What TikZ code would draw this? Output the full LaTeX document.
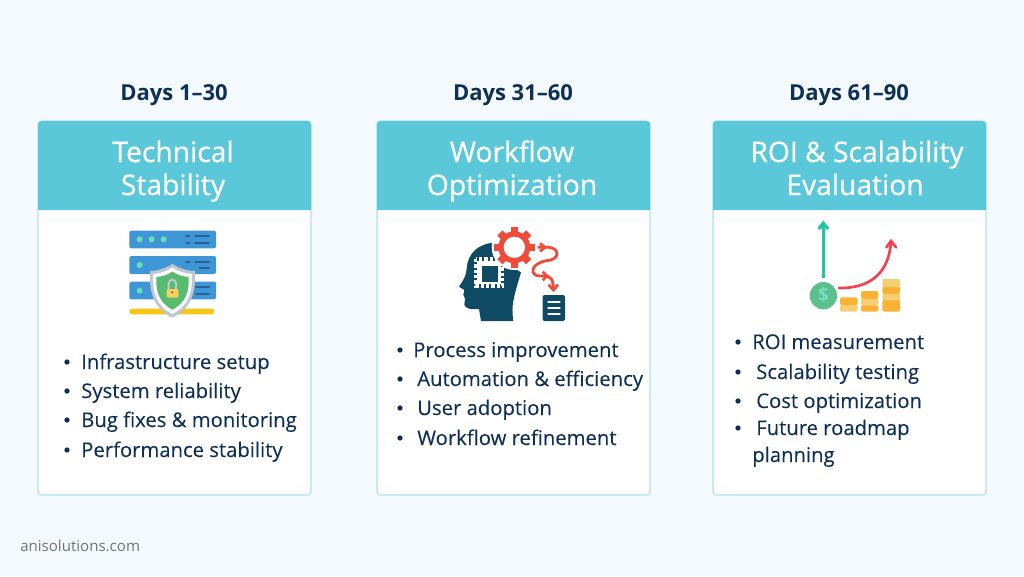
\documentclass[tikz,border=0pt]{standalone}
\usepackage{fontspec}
\setmainfont{Open Sans}
\newfontfamily\midfont[FakeBold=0.6]{Open Sans}
\newfontfamily\itemfont[FakeBold=0.15]{Open Sans}
\definecolor{pagebg}{HTML}{F4F9FD}
\definecolor{teal}{HTML}{5BC8D9}
\definecolor{edge}{HTML}{ACE3EA}
\definecolor{navy}{HTML}{0E2F56}
\definecolor{srvblue}{HTML}{3F96D6}
\definecolor{srvdark}{HTML}{2A5F94}
\definecolor{mint}{HTML}{66E0B4}
\definecolor{shieldgray}{HTML}{BFC5CC}
\definecolor{shieldgreen}{HTML}{58BC70}
\definecolor{lockyellow}{HTML}{F5D15B}
\definecolor{sunbar}{HTML}{F5C518}
\definecolor{headblue}{HTML}{0F4A63}
\definecolor{gearred}{HTML}{EE4B3A}
\definecolor{upgreen}{HTML}{1CC8A0}
\definecolor{coingreen}{HTML}{5BC08B}
\definecolor{curvered}{HTML}{F5414F}
\definecolor{coindark}{HTML}{F9B233}
\definecolor{coinlight}{HTML}{F5CE75}
\tikzset{
  dayslabel/.style={text=navy, font=\fontsize{16.5}{20}\selectfont\bfseries, anchor=base},
  headlabel/.style={text=white, font=\fontsize{21.2}{25}\midfont, anchor=base},
  itemlabel/.style={text=navy, inner sep=0pt, font=\fontsize{15.2}{18}\itemfont, anchor=base west},
  dotlabel/.style={circle, fill=navy, inner sep=0pt, minimum size=4pt},
  cardbox/.style={draw=edge, line width=0.8pt, fill=white, rounded corners=2.5pt},
  bluebar/.style={fill=srvblue, rounded corners=1.5pt},
  darkline/.style={draw=srvdark, line width=1.5pt, line cap=round},
  redline/.style={draw=gearred, line width=2.1pt},
  stackcoin/.style={rounded corners=1.6pt},
}
\begin{document}
\begin{tikzpicture}[x=0.75pt, y=-0.75pt]
  \fill [pagebg] (0, 0) rectangle (1024, 576);

  % Days 1-30
  \node (daysa) at (174, 100) [dayslabel] {Days 1–30};
  \draw [cardbox] (38, 121) rectangle (311, 495);
  \fill [teal] (38, 121) [rounded corners=2.5pt] -- (311, 121) [sharp corners] -- (311, 210) -- (38, 210) [rounded corners=2.5pt] -- cycle;
  \node (heada) at (173, 162) [headlabel] {Technical};
  \node (headb) at (173, 195) [headlabel] {Stability};
  \node (dota) at (67, 362) [dotlabel] {};
  \node (itema) at (81, 369) [itemlabel] {Infrastructure setup};
  \node (dotb) at (67, 391) [dotlabel] {};
  \node (itemb) at (81, 398) [itemlabel] {System reliability};
  \node (dotc) at (67, 420) [dotlabel] {};
  \node (itemc) at (81, 427) [itemlabel] {Bug fixes \& monitoring};
  \node (dotd) at (67, 450) [dotlabel] {};
  \node (itemd) at (81, 457) [itemlabel] {Performance stability};

  % server icon
  \begin{scope}[shift={(110, 215)}, x=0.25pt, y=-0.25pt]
    \fill [bluebar] (58, 47) rectangle (318, 100);
    \fill [bluebar] (58, 123) rectangle (318, 177);
    \fill [bluebar] (58, 200) rectangle (318, 253);
    \fill [sunbar, rounded corners=2pt] (58, 281) rectangle (313, 298);
    \fill [mint] (89, 73) circle (9);
    \fill [mint] (125, 73) circle (9);
    \fill [mint] (161, 73) circle (9);
    \fill [mint] (89, 150) circle (9);
    \fill [mint] (89, 227) circle (9);
    \draw [darkline] (229, 64) -- (238, 64);
    \draw [darkline] (255, 64) -- (297, 64);
    \draw [darkline] (229, 83) -- (238, 83);
    \draw [darkline] (255, 83) -- (297, 83);
    \draw [darkline] (229, 141) -- (238, 141);
    \draw [darkline] (255, 141) -- (297, 141);
    \draw [darkline] (268, 158) -- (297, 158);
    \draw [darkline] (258, 217) -- (297, 217);
    \draw [darkline] (258, 236) -- (297, 236);
    \fill [shieldgray] (187, 146) .. controls (205, 160) and (235, 168) .. (255, 168)
      .. controls (258, 230) and (245, 280) .. (187, 308)
      .. controls (130, 280) and (117, 230) .. (120, 168)
      .. controls (140, 168) and (170, 160) .. (187, 146) -- cycle;
    \fill [white!90!shieldgray] (187, 157) .. controls (205, 170) and (228, 176) .. (246, 177)
      .. controls (248, 230) and (238, 272) .. (187, 297)
      .. controls (137, 272) and (127, 230) .. (129, 177)
      .. controls (147, 176) and (170, 170) .. (187, 157) -- cycle;
    \fill [shieldgreen] (187, 170) .. controls (203, 181) and (222, 185) .. (236, 186)
      .. controls (238, 230) and (228, 262) .. (187, 284)
      .. controls (147, 262) and (137, 230) .. (139, 186)
      .. controls (153, 185) and (172, 181) .. (187, 170) -- cycle;
    \draw [shieldgray, line width=1.5pt] (176, 224) -- (176, 205) arc (180:360:11) -- (198, 224);
    \fill [lockyellow, rounded corners=1pt] (170, 222) rectangle (205, 248);
    \fill [black!50!gearred] (187, 232) circle (3);
  \end{scope}

  % Days 31-60
  \node (daysb) at (513, 100) [dayslabel] {Days 31–60};
  \draw [cardbox] (377, 121) rectangle (650, 495);
  \fill [teal] (377, 121) [rounded corners=2.5pt] -- (650, 121) [sharp corners] -- (650, 210) -- (377, 210) [rounded corners=2.5pt] -- cycle;
  \node (headc) at (512, 162) [headlabel] {Workflow};
  \node (headd) at (512, 195) [headlabel] {Optimization};
  \node (dote) at (400, 350) [dotlabel] {};
  \node (iteme) at (413, 357) [itemlabel] {Process improvement};
  \node (dotf) at (400, 379) [dotlabel] {};
  \node (itemf) at (417, 386) [itemlabel] {Automation \& efficiency};
  \node (dotg) at (400, 408) [dotlabel] {};
  \node (itemg) at (417, 415) [itemlabel] {User adoption};
  \node (doth) at (400, 438) [dotlabel] {};
  \node (itemh) at (417, 445) [itemlabel] {Workflow refinement};

  % head icon
  \begin{scope}[shift={(445, 215)}, x=0.25pt, y=-0.25pt]
    \fill [headblue] (150, 83) .. controls (100, 85) and (68, 115) .. (65, 160)
      .. controls (63, 185) and (55, 195) .. (42, 215) -- (58, 225) -- (55, 240) -- (60, 250) -- (58, 270)
      .. controls (65, 285) and (85, 283) .. (102, 282) -- (108, 318) -- (205, 318)
      .. controls (198, 270) and (205, 250) .. (228, 172) -- (190, 150) -- cycle;
    \draw [white, line width=2.6pt, dash pattern=on 2.4pt off 1.6pt] (92, 132) rectangle (173, 213);
    \fill [white] (97, 137) rectangle (168, 208);
    \fill [headblue] (110, 152) rectangle (160, 200);
    \fill [white] (208, 97) circle (68);
    \foreach \ang in {0, 45, ..., 315}
      \fill [gearred, rotate around={\ang:(208, 97)}] (197, 36) rectangle (219, 60);
    \fill [gearred] (208, 97) circle (48);
    \fill [white] (208, 97) circle (32);
    \draw [redline] (278, 97) -- (312, 97)
      .. controls (345, 100) and (345, 135) .. (305, 137)
      .. controls (255, 145) and (250, 185) .. (290, 183)
      .. controls (320, 180) and (325, 195) .. (325, 225);
    \draw [redline] (285, 85) -- (300, 97) -- (285, 109);
    \draw [redline] (293, 170) -- (306, 183) -- (293, 196);
    \draw [redline] (311, 209) -- (325, 225) -- (339, 209);
    \fill [headblue, rounded corners=1.5pt] (293, 240) rectangle (360, 318);
    \draw [white, line width=1.7pt, line cap=round] (310, 262) -- (344, 262);
    \draw [white, line width=1.7pt, line cap=round] (310, 280) -- (344, 280);
    \draw [white, line width=1.7pt, line cap=round] (310, 298) -- (344, 298);
  \end{scope}

  % Days 61-90
  \node (daysc) at (849, 100) [dayslabel] {Days 61–90};
  \draw [cardbox] (713, 121) rectangle (986, 495);
  \fill [teal] (713, 121) [rounded corners=2.5pt] -- (986, 121) [sharp corners] -- (986, 210) -- (713, 210) [rounded corners=2.5pt] -- cycle;
  \node (heade) at (857, 162) [headlabel] {ROI \& Scalability};
  \node (headf) at (855, 195) [headlabel] {Evaluation};
  \node (doti) at (738, 342) [dotlabel] {};
  \node (itemi) at (752, 349) [itemlabel] {ROI measurement};
  \node (dotj) at (738, 372) [dotlabel] {};
  \node (itemj) at (756, 379) [itemlabel] {Scalability testing};
  \node (dotk) at (738, 401) [dotlabel] {};
  \node (itemk) at (756, 408) [itemlabel] {Cost optimization};
  \node (dotl) at (738, 428) [dotlabel] {};
  \node (iteml) at (756, 435) [itemlabel] {Future roadmap};
  \node (itemm) at (752, 462) [itemlabel] {planning};

  % growth icon
  \begin{scope}[shift={(795, 215)}, x=0.25pt, y=-0.25pt]
    \draw [upgreen, line width=2.3pt] (85, 190) -- (85, 24);
    \draw [upgreen, line width=2.3pt] (71, 42) -- (85, 24) -- (99, 42);
    \fill [coingreen] (85, 242) circle (41);
    \node (dollar) at (85, 241) [inner sep=0pt, text=upgreen!60!white, font=\fontsize{14}{14}\selectfont\bfseries] {\$};
    \draw [curvered, line width=2pt, line cap=round] (132, 219) .. controls (220, 220) and (280, 180) .. (288, 82);
    \draw [curvered, line width=2pt, line cap=round] (274, 97) -- (288, 78) -- (303, 97);
    % coin stacks
    \fill [coinlight, stackcoin] (135, 268) rectangle (188, 290);
    \fill [coindark, stackcoin] (135, 247) rectangle (188, 270);
    \fill [coindark, stackcoin] (198, 270) rectangle (250, 290);
    \fill [coinlight, stackcoin] (198, 250) rectangle (250, 272);
    \fill [coindark, stackcoin] (198, 228) rectangle (250, 252);
    \fill [coindark, stackcoin] (262, 254) rectangle (315, 290);
    \fill [coinlight, stackcoin] (262, 235) rectangle (315, 256);
    \fill [coindark, stackcoin] (262, 214) rectangle (315, 237);
    \fill [coinlight, stackcoin] (262, 192) rectangle (315, 216);
  \end{scope}

  \node (site) at (20, 551) [inner sep=0pt, anchor=base west, text=black!55, font=\fontsize{11.3}{12}\selectfont] {anisolutions.com};
\end{tikzpicture}
\end{document}
